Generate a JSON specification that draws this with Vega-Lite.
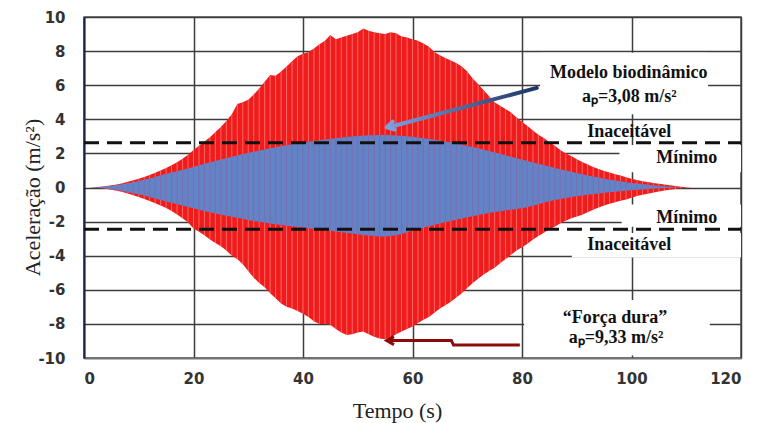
{
  "$schema": "https://vega.github.io/schema/vega-lite/v6.json",
  "width": 657,
  "height": 341,
  "autosize": {"type": "none"},
  "padding": {"left": 84, "top": 17, "right": 18, "bottom": 65},
  "background": "white",
  "config": {
    "view": {"stroke": "#555555", "strokeWidth": 1.5},
    "axis": {
      "grid": true,
      "gridColor": "#3c3c3c",
      "gridWidth": 1.5,
      "gridOpacity": 1,
      "ticks": false,
      "labelFont": "DejaVu Sans",
      "labelFontWeight": "bold",
      "labelFontSize": 15,
      "labelColor": "#333333",
      "titleFont": "Liberation Serif",
      "titleFontWeight": "normal",
      "titleFontSize": 22,
      "titleColor": "#222222"
    },
    "axisX": {
      "tickCount": 6,
      "labelPadding": 13,
      "domainColor": "#777777",
      "domainWidth": 1.5,
      "titleX": 313,
      "titleY": 59,
      "titleBaseline": "alphabetic"
    },
    "axisY": {
      "tickCount": 10,
      "labelPadding": 19,
      "domainColor": "#1c2648",
      "domainWidth": 2,
      "titleX": -45,
      "titleY": 180,
      "titleBaseline": "alphabetic",
      "titleAngle": -90,
      "titleAlign": "center",
      "labelExpr": "datum.value < 0 ? '-' + abs(datum.value) : '' + datum.value"
    }
  },
  "datasets": {
    "signal": [
      {"t":0,"rh":0,"rl":0,"bh":0,"bl":0},
      {"t":1,"rh":0,"rl":0,"bh":0,"bl":0},
      {"t":2,"rh":0.01,"rl":-0.01,"bh":0.01,"bl":-0.01},
      {"t":3,"rh":0.04,"rl":-0.04,"bh":0.03,"bl":-0.03},
      {"t":4,"rh":0.08,"rl":-0.08,"bh":0.06,"bl":-0.06},
      {"t":5,"rh":0.13,"rl":-0.13,"bh":0.1,"bl":-0.1},
      {"t":6,"rh":0.18,"rl":-0.19,"bh":0.14,"bl":-0.15},
      {"t":7,"rh":0.25,"rl":-0.26,"bh":0.19,"bl":-0.2},
      {"t":8,"rh":0.33,"rl":-0.35,"bh":0.25,"bl":-0.26},
      {"t":9,"rh":0.42,"rl":-0.45,"bh":0.31,"bl":-0.33},
      {"t":10,"rh":0.52,"rl":-0.56,"bh":0.38,"bl":-0.4},
      {"t":11,"rh":0.62,"rl":-0.67,"bh":0.45,"bl":-0.47},
      {"t":12,"rh":0.74,"rl":-0.79,"bh":0.53,"bl":-0.55},
      {"t":13,"rh":0.87,"rl":-0.92,"bh":0.62,"bl":-0.64},
      {"t":14,"rh":1.0,"rl":-1.05,"bh":0.72,"bl":-0.73},
      {"t":15,"rh":1.15,"rl":-1.2,"bh":0.8,"bl":-0.82},
      {"t":16,"rh":1.3,"rl":-1.38,"bh":0.88,"bl":-0.9},
      {"t":17,"rh":1.48,"rl":-1.58,"bh":0.96,"bl":-0.98},
      {"t":18,"rh":1.68,"rl":-1.8,"bh":1.04,"bl":-1.06},
      {"t":19,"rh":1.92,"rl":-2.05,"bh":1.12,"bl":-1.14},
      {"t":20,"rh":2.2,"rl":-2.4,"bh":1.2,"bl":-1.22},
      {"t":21,"rh":2.45,"rl":-2.6,"bh":1.3,"bl":-1.3},
      {"t":22,"rh":2.7,"rl":-2.8,"bh":1.4,"bl":-1.38},
      {"t":23,"rh":2.95,"rl":-3.05,"bh":1.48,"bl":-1.45},
      {"t":24,"rh":3.25,"rl":-3.25,"bh":1.56,"bl":-1.52},
      {"t":25,"rh":3.55,"rl":-3.45,"bh":1.64,"bl":-1.59},
      {"t":26,"rh":3.9,"rl":-3.7,"bh":1.72,"bl":-1.66},
      {"t":27,"rh":4.3,"rl":-4.0,"bh":1.8,"bl":-1.72},
      {"t":28,"rh":4.9,"rl":-4.2,"bh":1.88,"bl":-1.78},
      {"t":29,"rh":5.0,"rl":-4.5,"bh":1.96,"bl":-1.84},
      {"t":30,"rh":5.15,"rl":-4.9,"bh":2.03,"bl":-1.9},
      {"t":31,"rh":5.45,"rl":-5.3,"bh":2.1,"bl":-1.96},
      {"t":32,"rh":5.8,"rl":-5.6,"bh":2.17,"bl":-2.01},
      {"t":33,"rh":6.2,"rl":-5.85,"bh":2.23,"bl":-2.06},
      {"t":34,"rh":6.6,"rl":-6.2,"bh":2.3,"bl":-2.11},
      {"t":35,"rh":6.55,"rl":-6.5,"bh":2.36,"bl":-2.16},
      {"t":36,"rh":6.8,"rl":-6.8,"bh":2.42,"bl":-2.2},
      {"t":37,"rh":7.1,"rl":-7.0,"bh":2.48,"bl":-2.24},
      {"t":38,"rh":7.4,"rl":-7.1,"bh":2.53,"bl":-2.28},
      {"t":39,"rh":7.7,"rl":-7.25,"bh":2.58,"bl":-2.32},
      {"t":40,"rh":7.85,"rl":-7.4,"bh":2.63,"bl":-2.35},
      {"t":41,"rh":7.95,"rl":-7.6,"bh":2.68,"bl":-2.39},
      {"t":42,"rh":8.15,"rl":-7.85,"bh":2.72,"bl":-2.43},
      {"t":43,"rh":8.4,"rl":-8.0,"bh":2.77,"bl":-2.47},
      {"t":44,"rh":8.6,"rl":-8.0,"bh":2.81,"bl":-2.5},
      {"t":45,"rh":8.95,"rl":-8.05,"bh":2.85,"bl":-2.54},
      {"t":46,"rh":8.7,"rl":-8.3,"bh":2.89,"bl":-2.58},
      {"t":47,"rh":8.8,"rl":-8.5,"bh":2.93,"bl":-2.62},
      {"t":48,"rh":8.9,"rl":-8.65,"bh":2.96,"bl":-2.66},
      {"t":49,"rh":9.0,"rl":-8.6,"bh":2.99,"bl":-2.7},
      {"t":50,"rh":9.1,"rl":-8.5,"bh":3.02,"bl":-2.74},
      {"t":51,"rh":9.33,"rl":-8.45,"bh":3.04,"bl":-2.78},
      {"t":52,"rh":9.2,"rl":-8.6,"bh":3.06,"bl":-2.82},
      {"t":53,"rh":9.1,"rl":-8.75,"bh":3.07,"bl":-2.85},
      {"t":54,"rh":9.05,"rl":-8.85,"bh":3.08,"bl":-2.88},
      {"t":55,"rh":9.0,"rl":-8.9,"bh":3.08,"bl":-2.88},
      {"t":56,"rh":9.1,"rl":-8.8,"bh":3.07,"bl":-2.85},
      {"t":57,"rh":9.05,"rl":-8.6,"bh":3.05,"bl":-2.8},
      {"t":58,"rh":8.85,"rl":-8.45,"bh":3.03,"bl":-2.72},
      {"t":59,"rh":8.8,"rl":-8.3,"bh":3.0,"bl":-2.62},
      {"t":60,"rh":8.7,"rl":-8.15,"bh":2.97,"bl":-2.52},
      {"t":61,"rh":8.6,"rl":-7.95,"bh":2.93,"bl":-2.43},
      {"t":62,"rh":8.45,"rl":-7.75,"bh":2.89,"bl":-2.35},
      {"t":63,"rh":8.25,"rl":-7.6,"bh":2.85,"bl":-2.27},
      {"t":64,"rh":7.95,"rl":-7.35,"bh":2.8,"bl":-2.19},
      {"t":65,"rh":7.75,"rl":-7.1,"bh":2.75,"bl":-2.11},
      {"t":66,"rh":7.6,"rl":-6.9,"bh":2.7,"bl":-2.03},
      {"t":67,"rh":7.45,"rl":-6.7,"bh":2.64,"bl":-1.96},
      {"t":68,"rh":7.3,"rl":-6.45,"bh":2.58,"bl":-1.89},
      {"t":69,"rh":7.1,"rl":-6.2,"bh":2.51,"bl":-1.82},
      {"t":70,"rh":6.8,"rl":-5.9,"bh":2.44,"bl":-1.75},
      {"t":71,"rh":6.4,"rl":-5.6,"bh":2.37,"bl":-1.68},
      {"t":72,"rh":6.05,"rl":-5.35,"bh":2.3,"bl":-1.62},
      {"t":73,"rh":5.7,"rl":-5.1,"bh":2.22,"bl":-1.56},
      {"t":74,"rh":5.35,"rl":-4.9,"bh":2.14,"bl":-1.5},
      {"t":75,"rh":5.0,"rl":-4.7,"bh":2.06,"bl":-1.45},
      {"t":76,"rh":4.8,"rl":-4.45,"bh":1.98,"bl":-1.4},
      {"t":77,"rh":4.6,"rl":-4.2,"bh":1.89,"bl":-1.35},
      {"t":78,"rh":4.4,"rl":-3.95,"bh":1.8,"bl":-1.3},
      {"t":79,"rh":4.1,"rl":-3.7,"bh":1.72,"bl":-1.26},
      {"t":80,"rh":3.85,"rl":-3.5,"bh":1.64,"bl":-1.22},
      {"t":81,"rh":3.6,"rl":-3.3,"bh":1.56,"bl":-1.15},
      {"t":82,"rh":3.35,"rl":-3.05,"bh":1.47,"bl":-1.07},
      {"t":83,"rh":3.1,"rl":-2.85,"bh":1.39,"bl":-0.98},
      {"t":84,"rh":2.9,"rl":-2.65,"bh":1.31,"bl":-0.88},
      {"t":85,"rh":2.65,"rl":-2.45,"bh":1.23,"bl":-0.8},
      {"t":86,"rh":2.45,"rl":-2.3,"bh":1.15,"bl":-0.73},
      {"t":87,"rh":2.2,"rl":-2.1,"bh":1.07,"bl":-0.67},
      {"t":88,"rh":2.0,"rl":-1.95,"bh":1.0,"bl":-0.61},
      {"t":89,"rh":1.85,"rl":-1.8,"bh":0.92,"bl":-0.56},
      {"t":90,"rh":1.65,"rl":-1.7,"bh":0.85,"bl":-0.51},
      {"t":91,"rh":1.5,"rl":-1.6,"bh":0.78,"bl":-0.47},
      {"t":92,"rh":1.35,"rl":-1.45,"bh":0.71,"bl":-0.43},
      {"t":93,"rh":1.2,"rl":-1.3,"bh":0.64,"bl":-0.39},
      {"t":94,"rh":1.08,"rl":-1.18,"bh":0.58,"bl":-0.35},
      {"t":95,"rh":0.97,"rl":-1.06,"bh":0.52,"bl":-0.31},
      {"t":96,"rh":0.88,"rl":-0.96,"bh":0.46,"bl":-0.28},
      {"t":97,"rh":0.78,"rl":-0.86,"bh":0.41,"bl":-0.25},
      {"t":98,"rh":0.7,"rl":-0.78,"bh":0.36,"bl":-0.22},
      {"t":99,"rh":0.6,"rl":-0.7,"bh":0.31,"bl":-0.19},
      {"t":100,"rh":0.52,"rl":-0.6,"bh":0.27,"bl":-0.16},
      {"t":101,"rh":0.44,"rl":-0.5,"bh":0.23,"bl":-0.13},
      {"t":102,"rh":0.37,"rl":-0.42,"bh":0.2,"bl":-0.11},
      {"t":103,"rh":0.32,"rl":-0.36,"bh":0.16,"bl":-0.09},
      {"t":104,"rh":0.27,"rl":-0.3,"bh":0.13,"bl":-0.07},
      {"t":105,"rh":0.22,"rl":-0.24,"bh":0.1,"bl":-0.05},
      {"t":106,"rh":0.17,"rl":-0.18,"bh":0.07,"bl":-0.03},
      {"t":107,"rh":0.13,"rl":-0.13,"bh":0.05,"bl":-0.02},
      {"t":108,"rh":0.09,"rl":-0.09,"bh":0.02,"bl":-0.01},
      {"t":109,"rh":0.05,"rl":-0.05,"bh":0.01,"bl":0},
      {"t":110,"rh":0.02,"rl":-0.02,"bh":0,"bl":0},
      {"t":111,"rh":0,"rl":0,"bh":0,"bl":0}
    ],
    "boxes": [
      {"t":83.3,"t2":114,"a":7.9,"a2":4.3},
      {"t":97.8,"t2":120,"a":2.5,"a2":0.9},
      {"t":98.2,"t2":120,"a":-1.0,"a2":-2.3},
      {"t":89.1,"t2":120,"a":-2.67,"a2":-4.1},
      {"t":80.4,"t2":114.3,"a":-6.6,"a2":-9.85}
    ],
    "limits": [{"a":2.63},{"a":-2.45}],
    "notes": [
      {"t":99.5,"a":6.72,"label":"Modelo biodinâmico"},
      {"t":99.6,"a":5.3,"label":"aₚ=3,08 m/s²"},
      {"t":99.6,"a":3.25,"label":"Inaceitável"},
      {"t":110.1,"a":1.73,"label":"Mínimo"},
      {"t":110.1,"a":-1.79,"label":"Mínimo"},
      {"t":99.6,"a":-3.37,"label":"Inaceitável"},
      {"t":97.0,"a":-7.65,"label":"“Força dura”"},
      {"t":97.2,"a":-8.8,"label":"aₚ=9,33 m/s²"}
    ],
    "arrows": [
      {"id":"b","o":1,"t":82.7,"a":5.84},
      {"id":"b","o":2,"t":55.8,"a":3.55},
      {"id":"r","o":1,"t":79.6,"a":-9.24},
      {"id":"r","o":2,"t":67.5,"a":-9.24},
      {"id":"r","o":3,"t":67.1,"a":-8.98},
      {"id":"r","o":4,"t":55.6,"a":-8.98}
    ],
    "heads": [
      {"id":"b","t":55.3,"a":3.53},
      {"id":"r","t":55.3,"a":-8.98}
    ]
  },
  "encoding": {
    "x": {"field":"t","type":"quantitative","scale":{"domain":[0,120],"nice":false},"title":"Tempo (s)"}
  },
  "layer": [
    {
      "data": {"name":"boxes"},
      "mark": {"type":"rect","fill":"white","stroke":null},
      "encoding": {
        "x2": {"field":"t2"},
        "y": {"field":"a","type":"quantitative","scale":{"domain":[-10,10],"nice":false},"title":"Aceleração (m/s²)"},
        "y2": {"field":"a2"}
      }
    },
    {
      "data": {"name":"signal"},
      "mark": {"type":"area","color":"#f01c1c","opacity":1},
      "encoding": {
        "y": {"field":"rh","type":"quantitative","scale":{"domain":[-10,10],"nice":false},"title":"Aceleração (m/s²)"},
        "y2": {"field":"rl"}
      }
    },
    {
      "data": {"name":"signal"},
      "mark": {"type":"rule","color":"#ff9a9a","strokeWidth":1,"opacity":0.6},
      "encoding": {
        "y": {"field":"rh","type":"quantitative","scale":{"domain":[-10,10],"nice":false},"title":"Aceleração (m/s²)"},
        "y2": {"field":"rl"}
      }
    },
    {
      "data": {"name":"signal"},
      "mark": {"type":"area","color":"#6383c6","opacity":1},
      "encoding": {
        "y": {"field":"bh","type":"quantitative","scale":{"domain":[-10,10],"nice":false},"title":"Aceleração (m/s²)"},
        "y2": {"field":"bl"}
      }
    },
    {
      "data": {"name":"signal"},
      "mark": {"type":"rule","color":"#8a5c9e","strokeWidth":1,"opacity":0.5},
      "encoding": {
        "y": {"field":"bh","type":"quantitative","scale":{"domain":[-10,10],"nice":false},"title":"Aceleração (m/s²)"},
        "y2": {"field":"bl"}
      }
    },
    {
      "data": {"name":"limits"},
      "mark": {"type":"rule","color":"#111111","strokeWidth":3,"strokeDash":[15,8]},
      "encoding": {
        "x": {"value":0},
        "x2": {"value":657},
        "y": {"field":"a","type":"quantitative","scale":{"domain":[-10,10],"nice":false},"title":"Aceleração (m/s²)"}
      }
    },
    {
      "data": {"name":"notes"},
      "mark": {"type":"text","font":"Liberation Serif","fontWeight":"bold","fontSize":18,"color":"#111111","align":"center","baseline":"middle"},
      "encoding": {
        "y": {"field":"a","type":"quantitative","scale":{"domain":[-10,10],"nice":false},"title":"Aceleração (m/s²)"},
        "text": {"field":"label"}
      }
    },
    {
      "data": {"name":"arrows"},
      "transform": [{"filter":"datum.id == 'b'"}],
      "mark": {"type":"line","strokeWidth":4,"strokeCap":"round","color":{"gradient":"linear","x1":0,"x2":1,"y1":0,"y2":0,"stops":[{"offset":0,"color":"#7e9ddc"},{"offset":1,"color":"#1c3566"}]}},
      "encoding": {
        "y": {"field":"a","type":"quantitative","scale":{"domain":[-10,10],"nice":false},"title":"Aceleração (m/s²)"},
        "order": {"field":"o"}
      }
    },
    {
      "data": {"name":"arrows"},
      "transform": [{"filter":"datum.id == 'r'"}],
      "mark": {"type":"line","strokeWidth":3,"color":"#8b0a0a","interpolate":"linear"},
      "encoding": {
        "y": {"field":"a","type":"quantitative","scale":{"domain":[-10,10],"nice":false},"title":"Aceleração (m/s²)"},
        "order": {"field":"o"}
      }
    },
    {
      "data": {"name":"heads"},
      "transform": [{"filter":"datum.id == 'b'"}],
      "mark": {"type":"point","shape":"M 1.6 -0.9 L 0 0 L 1.6 0.9","filled":false,"stroke":"#7e9ddc","strokeWidth":4,"size":80,"angle":-14,"opacity":1,"strokeCap":"round","strokeJoin":"round"},
      "encoding": {
        "y": {"field":"a","type":"quantitative","scale":{"domain":[-10,10],"nice":false},"title":"Aceleração (m/s²)"}
      }
    },
    {
      "data": {"name":"heads"},
      "transform": [{"filter":"datum.id == 'r'"}],
      "mark": {"type":"point","shape":"M 1.6 -0.9 L 0 0 L 1.6 0.9","filled":false,"stroke":"#8b0a0a","strokeWidth":3,"size":80,"opacity":1,"strokeJoin":"miter"},
      "encoding": {
        "y": {"field":"a","type":"quantitative","scale":{"domain":[-10,10],"nice":false},"title":"Aceleração (m/s²)"}
      }
    }
  ]
}
